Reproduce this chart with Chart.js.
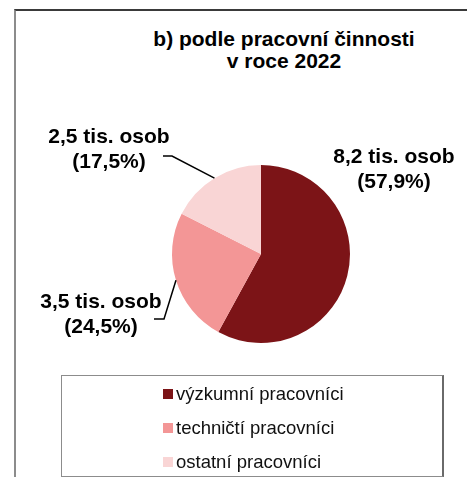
<!DOCTYPE html>
<html lang="cs">
  <head>
    <meta charset="UTF-8" />
    <title>Zaměstnanci podle pracovní činnosti</title>
    <script src="https://cdn.jsdelivr.net/npm/chart.js"></script>
    <style>
      html, body { margin: 0; padding: 0; background: #fff; }
      body { width: 467px; height: 477px; position: relative; overflow: hidden; font-family: "Liberation Sans", Arial, sans-serif; }
      .frame { position: absolute; left: 14px; top: 9px; width: 460px; height: 480px; border-left: 2px solid #8c8c8c; border-top: 2px solid #3a3a3a; }
      .title { position: absolute; left: 124px; width: 320px; top: 28px; text-align: center; font-weight: bold; font-size: 21px; line-height: 22px; color: #000; white-space: nowrap; }
      #chart-wrap { position: absolute; left: 0; top: 0; width: 467px; height: 477px; }
      .legend { position: absolute; left: 61px; top: 375px; width: 380px; height: 100px; border: 1px solid #8c8c8c; border-right: 2px solid #6a6a6a; }
      .legend-item { position: absolute; left: 101px; height: 20px; font-size: 18.5px; line-height: 20px; color: #111; white-space: nowrap; }
      .legend-item i { display: inline-block; width: 10px; height: 10px; margin-right: 3px; vertical-align: 1px; }
    </style>
  </head>

  <body>
    <div class="frame"></div>
    <div class="title">b) podle pracovní činnosti<br />v roce 2022</div>
    <div id="chart-wrap"><canvas id="pieChart"></canvas></div>
    <div class="legend" id="legend"></div>

    <script>
      // data
      const categories = ["výzkumní pracovníci", "techničtí pracovníci", "ostatní pracovníci"];
      const persons = [8.2, 3.5, 2.5]; // tis. osob
      const shares = [57.9, 24.5, 17.5]; // %
      const colors = ["#7c1417", "#f39696", "#f9d5d5"];

      // where each label sits relative to the pie centre (and optional leader line start)
      const labelSpots = [
        { dx: 133, dy: -97, leader: null },
        { dx: -160, dy: 48, leader: [[-107, 65], [-97, 65]] },
        { dx: -152, dy: -117, leader: [[-98, -98], [-89, -98]] },
      ];

      const fmt = (v) => v.toFixed(1).replace(".", ",");

      const pieLabels = {
        id: "pieLabels",
        afterDatasetsDraw(chart) {
          const ctx = chart.ctx;
          const arcs = chart.getDatasetMeta(0).data;
          ctx.save();
          ctx.font = "bold 21px 'Liberation Sans', Arial, sans-serif";
          ctx.fillStyle = "#000";
          ctx.textAlign = "center";
          ctx.textBaseline = "middle";
          arcs.forEach((arc, i) => {
            const { x, y, outerRadius, startAngle, endAngle } = arc.getProps(
              ["x", "y", "outerRadius", "startAngle", "endAngle"],
              true
            );
            const spot = labelSpots[i];
            ctx.fillText(fmt(persons[i]) + " tis. osob", x + spot.dx, y + spot.dy);
            ctx.fillText("(" + fmt(shares[i]) + "%)", x + spot.dx, y + spot.dy + 25);
            if (spot.leader) {
              const mid = (startAngle + endAngle) / 2;
              ctx.beginPath();
              ctx.strokeStyle = "#000";
              ctx.lineWidth = 1.5;
              ctx.moveTo(x + spot.leader[0][0], y + spot.leader[0][1]);
              ctx.lineTo(x + spot.leader[1][0], y + spot.leader[1][1]);
              ctx.lineTo(x + Math.cos(mid) * outerRadius, y + Math.sin(mid) * outerRadius);
              ctx.stroke();
            }
          });
          ctx.restore();
        },
      };

      const pieCtx = document.getElementById("pieChart").getContext("2d");
      const pieChart = new Chart(pieCtx, {
        type: "pie",
        data: {
          labels: categories,
          datasets: [
            {
              data: shares,
              backgroundColor: colors,
              borderWidth: 0,
            },
          ],
        },
        options: {
          responsive: true,
          maintainAspectRatio: false,
          animation: false,
          layout: { padding: { left: 172, right: 117, top: 165, bottom: 134 } },
          plugins: {
            legend: { display: false },
            tooltip: { enabled: false },
          },
        },
        plugins: [pieLabels],
      });

      // legend box built from the chart's own data
      const legendEl = document.getElementById("legend");
      pieChart.data.labels.forEach((label, i) => {
        const item = document.createElement("div");
        item.className = "legend-item";
        item.style.top = 8 + i * 34 + "px";
        item.innerHTML =
          '<i style="background:' + pieChart.data.datasets[0].backgroundColor[i] + '"></i>' + label;
        legendEl.appendChild(item);
      });
    </script>
  </body>
</html>
